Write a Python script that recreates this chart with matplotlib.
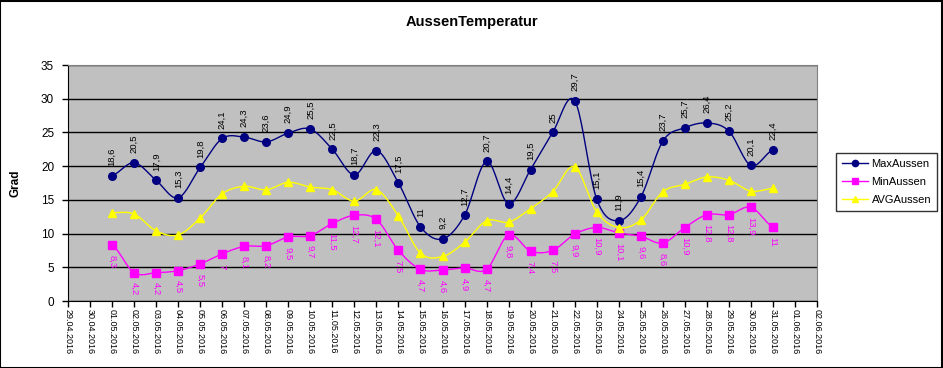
import numpy as np
import pandas as pd
import matplotlib
matplotlib.use('Agg')
import matplotlib.pyplot as plt
import matplotlib.dates as mdates
from matplotlib.lines import Line2D

plt.rcParams['font.family'] = ['Liberation Sans', 'DejaVu Sans']

# daily values, May 2016
days = pd.date_range('2016-05-01', '2016-05-31', freq='D')
max_aussen = [18.6, 20.5, 17.9, 15.3, 19.8, 24.1, 24.3, 23.6, 24.9, 25.5,
              22.5, 18.7, 22.3, 17.5, 11, 9.2, 12.7, 20.7, 14.4, 19.5,
              25, 29.7, 15.1, 11.9, 15.4, 23.7, 25.7, 26.4, 25.2, 20.1, 22.4]
min_aussen = [8.3, 4.2, 4.2, 4.5, 5.5, 7, 8.1, 8.2, 9.5, 9.7,
              11.5, 12.7, 12.1, 7.5, 4.7, 4.6, 4.9, 4.7, 9.8, 7.4,
              7.5, 9.9, 10.9, 10.1, 9.6, 8.6, 10.9, 12.8, 12.8, 13.9, 11]
avg_aussen = [13.1, 12.9, 10.4, 9.8, 12.3, 15.9, 17.0, 16.5, 17.6, 16.9,
              16.5, 14.8, 16.5, 12.6, 7.1, 6.6, 8.7, 11.9, 11.7, 13.7,
              16.2, 19.9, 13.2, 10.9, 12.0, 16.2, 17.3, 18.4, 17.9, 16.3, 16.7]
x_start, x_end = '2016-04-29', '2016-06-02'


def smooth(x, y, n=20):
    # catmull-rom style curve, roughly what Excel's "smoothed line" does
    x = np.asarray(x, float)
    y = np.asarray(y, float)
    px = np.concatenate([[2 * x[0] - x[1]], x, [2 * x[-1] - x[-2]]])
    py = np.concatenate([[y[0]], y, [y[-1]]])
    xs, ys = [], []
    t = np.linspace(0, 1, n, endpoint=False)
    for i in range(1, len(px) - 2):
        p0, p1, p2, p3 = py[i - 1], py[i], py[i + 1], py[i + 2]
        q0, q1, q2, q3 = px[i - 1], px[i], px[i + 1], px[i + 2]
        for a, b, c, d, out in ((q0, q1, q2, q3, xs), (p0, p1, p2, p3, ys)):
            out.extend(0.5 * (2 * b + (-a + c) * t + (2 * a - 5 * b + 4 * c - d) * t ** 2
                              + (-a + 3 * b - 3 * c + d) * t ** 3))
    xs.append(x[-1])
    ys.append(y[-1])
    return xs, ys


def fmt(v):
    return f'{v:g}'.replace('.', ',')


fig = plt.figure(figsize=(9.43, 3.68), dpi=100)
ax = fig.add_axes([68 / 943, 1 - 301 / 368, 749 / 943, 236 / 368])
ax.set_facecolor('#C0C0C0')

xn = mdates.date2num(days)
series = [
    ('MaxAussen', max_aussen, '#000080', 'o', 5.5),
    ('MinAussen', min_aussen, '#FF00FF', 's', 6),
    ('AVGAussen', avg_aussen, '#FFFF00', '^', 6),
]
handles = []
for name, vals, col, mk, ms in series:
    sx, sy = smooth(xn, vals)
    ax.plot(sx, sy, color=col, lw=1, zorder=3)
    ax.plot(xn, vals, ls='none', marker=mk, ms=ms, color=col, mec=col, zorder=4)
    handles.append(Line2D([], [], color=col, lw=1, marker=mk, ms=4.5, mec=col, label=name))

for xi, v in zip(xn, max_aussen):
    ax.annotate(fmt(v), (xi, v), xytext=(0, 7), textcoords='offset points',
                rotation=90, ha='center', va='bottom', fontsize=6.8, color='black', zorder=5)
for xi, v in zip(xn, min_aussen):
    ax.annotate(fmt(v), (xi, v), xytext=(0, -7), textcoords='offset points',
                rotation=270, ha='center', va='top', fontsize=6.8, color='#FF00FF', zorder=5)

ax.set_xlim(mdates.datestr2num(x_start), mdates.datestr2num(x_end))
ax.set_ylim(0, 35)
ax.set_yticks(range(0, 36, 5))
ax.yaxis.grid(True, color='black', lw=1)
ax.set_axisbelow(True)
ax.xaxis.set_major_locator(mdates.DayLocator())
ax.xaxis.set_major_formatter(mdates.DateFormatter('%d.%m.%Y'))
plt.setp(ax.get_xticklabels(), rotation=270, ha='center', va='top', fontsize=6.5)
plt.setp(ax.get_yticklabels(), fontsize=8.5)
ax.tick_params(axis='both', direction='out', length=4, width=1, color='black', pad=2)
ax.tick_params(axis='y', pad=6)
for s in ('left', 'bottom'):
    ax.spines[s].set_color('black')
for s in ('top', 'right'):
    ax.spines[s].set_color('#808080')

ax.set_ylabel('Grad', fontsize=8.5, fontweight='bold', labelpad=14)
fig.text(0.5, 1 - 22 / 368, 'AussenTemperatur', ha='center', va='center',
         fontsize=10.5, fontweight='bold')

leg = fig.legend(handles=handles, loc='upper left', bbox_to_anchor=(836 / 943, 1 - 153 / 368),
                 borderaxespad=0, fontsize=8, frameon=True, fancybox=False,
                 edgecolor='black', handlelength=2.4, borderpad=0.5, labelspacing=0.75,
                 handletextpad=0.3)
leg.get_frame().set_linewidth(1)

fig.patches.append(plt.Rectangle((0.0005, 0.001), 0.998, 0.997, transform=fig.transFigure,
                                 fill=False, edgecolor='black', lw=1.5))
fig.savefig('out.png', dpi=100)
